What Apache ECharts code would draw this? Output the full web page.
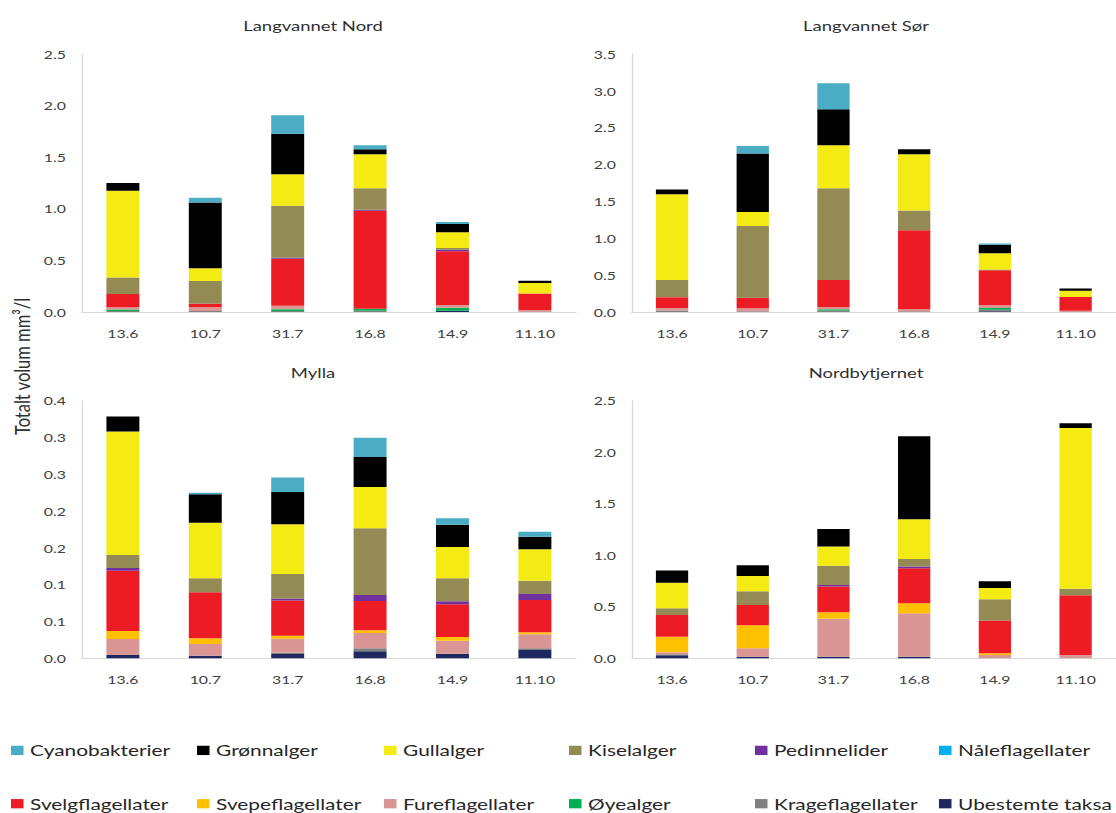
<!DOCTYPE html>
<html>
<head>
<meta charset="utf-8">
<script src="https://cdn.jsdelivr.net/npm/echarts@6/dist/echarts.min.js"></script>
<style>
  html, body { margin: 0; padding: 0; background: #fff; overflow: hidden; }
  #wrap { width: 1116px; height: 813px; overflow: hidden; }
  /* the figure is laid out narrow and widened horizontally */
  #chart { width: 846px; height: 813px; transform: scaleX(1.3191); transform-origin: 0 0; }
</style>
</head>
<body>
<div id="wrap"><div id="chart"></div></div>
<script>
// Sampling dates
const categories = ['13.6', '10.7', '31.7', '16.8', '14.9', '11.10'];

// Taxon groups, stacking order from the bottom of each bar upwards
const taxa = ['Ubestemte taksa', 'Krageflagellater', 'Øyealger', 'Fureflagellater',
  'Svepeflagellater', 'Svelgflagellater', 'Nåleflagellater', 'Pedinnelider',
  'Kiselalger', 'Gullalger', 'Grønnalger', 'Cyanobakterier'];

// Legend order (two rows of six)
const legendOrder = ['Cyanobakterier', 'Grønnalger', 'Gullalger', 'Kiselalger', 'Pedinnelider', 'Nåleflagellater',
  'Svelgflagellater', 'Svepeflagellater', 'Fureflagellater', 'Øyealger', 'Krageflagellater', 'Ubestemte taksa'];

const taxonColors = ['#1F2760', '#808080', '#00B050', '#D99694', '#FFC000', '#ED1C24',
  '#00B0F0', '#7030A0', '#948A54', '#F4EA14', '#000000', '#4BACC6'];

// Volume (mm³/l) per taxon (rows, same order as taxa) and date (columns)
const langvannetNord = [
  [0, 0, 0, 0, 0.013, 0],
  [0.01, 0.01, 0.01, 0.012, 0, 0],
  [0.015, 0, 0.016, 0.02, 0.029, 0],
  [0.02, 0.035, 0.035, 0, 0.026, 0.02],
  [0, 0, 0, 0, 0, 0],
  [0.13, 0.036, 0.456, 0.95, 0.52, 0.16],
  [0, 0, 0, 0, 0, 0],
  [0, 0, 0.008, 0.008, 0.015, 0],
  [0.16, 0.22, 0.505, 0.208, 0.017, 0],
  [0.84, 0.123, 0.304, 0.33, 0.152, 0.10],
  [0.075, 0.636, 0.394, 0.048, 0.081, 0.023],
  [0, 0.046, 0.178, 0.039, 0.019, 0]
];

const langvannetSor = [
  [0, 0, 0, 0, 0.01, 0],
  [0.02, 0.01, 0.02, 0.01, 0.02, 0],
  [0, 0, 0.016, 0, 0.024, 0],
  [0.034, 0.04, 0.027, 0.026, 0.036, 0.018],
  [0, 0, 0, 0, 0, 0],
  [0.145, 0.145, 0.371, 1.073, 0.476, 0.186],
  [0, 0, 0, 0, 0, 0],
  [0, 0, 0, 0, 0, 0],
  [0.235, 0.972, 1.245, 0.267, 0.01, 0],
  [1.163, 0.19, 0.583, 0.764, 0.22, 0.085],
  [0.064, 0.792, 0.489, 0.068, 0.118, 0.031],
  [0, 0.104, 0.353, 0, 0.014, 0]
];

const mylla = [
  [0.0045, 0.0036, 0.0059, 0.0095, 0.0063, 0.0113],
  [0, 0, 0.0018, 0.0041, 0, 0.0023],
  [0, 0, 0, 0, 0, 0],
  [0.0218, 0.0159, 0.019, 0.0208, 0.0177, 0.019],
  [0.0108, 0.0077, 0.0041, 0.0036, 0.005, 0.0027],
  [0.082, 0.0625, 0.0476, 0.0399, 0.0444, 0.044],
  [0, 0, 0, 0, 0, 0],
  [0.0036, 0, 0.003, 0.0082, 0.004, 0.0081],
  [0.0177, 0.019, 0.0331, 0.0905, 0.0313, 0.0181],
  [0.1676, 0.0756, 0.0675, 0.0562, 0.0426, 0.0426],
  [0.0204, 0.0385, 0.0439, 0.0408, 0.0303, 0.0172],
  [0, 0.0023, 0.0199, 0.0262, 0.0086, 0.0068]
];

const nordbytjernet = [
  [0.03, 0.016, 0.016, 0.016, 0, 0],
  [0.009, 0, 0, 0, 0, 0],
  [0, 0, 0, 0, 0, 0],
  [0.019, 0.081, 0.369, 0.421, 0.032, 0.032],
  [0.152, 0.223, 0.061, 0.097, 0.017, 0],
  [0.21, 0.198, 0.25, 0.34, 0.317, 0.58],
  [0, 0, 0, 0, 0, 0],
  [0, 0, 0.016, 0.016, 0, 0],
  [0.065, 0.132, 0.187, 0.074, 0.207, 0.064],
  [0.249, 0.149, 0.185, 0.385, 0.11, 1.56],
  [0.117, 0.104, 0.171, 0.806, 0.064, 0.046],
  [0, 0, 0, 0, 0, 0]
];

// Y axis tick labels per panel
const ticksNord = ['0.0', '0.5', '1.0', '1.5', '2.0', '2.5'];
const ticksSor = ['0.0', '0.5', '1.0', '1.5', '2.0', '2.5', '3.0', '3.5'];
const ticksMylla = ['0.0', '0.1', '0.1', '0.2', '0.2', '0.3', '0.3', '0.4'];
const ticksNordby = ['0.0', '0.5', '1.0', '1.5', '2.0', '2.5'];

const lakeNames = ['Langvannet Nord', 'Langvannet Sør', 'Mylla', 'Nordbytjernet'];

// ---- layout ----
const K = 1116 / 846;            // horizontal widening factor
const sx = x => x / K;           // page x -> chart x
const FONT = 'Lato, "Open Sans", sans-serif';
const TXT = '#404040';

const panels = [
  { data: langvannetNord, ticks: ticksNord, max: 2.5, interval: 0.5, left: 81.7, top: 54, height: 258, titleX: 313, titleY: 25 },
  { data: langvannetSor, ticks: ticksSor, max: 3.5, interval: 0.5, left: 631.7, top: 54, height: 258, titleX: 866, titleY: 25 },
  { data: mylla, ticks: ticksMylla, max: 0.35, interval: 0.05, left: 81.7, top: 400.7, height: 257.6, titleX: 313, titleY: 372 },
  { data: nordbytjernet, ticks: ticksNordby, max: 2.5, interval: 0.5, left: 631.7, top: 400.7, height: 257.6, titleX: 866, titleY: 372 }
];
const plotWidth = 494.4;

const grid = [], xAxis = [], yAxis = [], series = [], graphic = [];
panels.forEach((p, pi) => {
  grid.push({ left: sx(p.left), top: p.top, width: sx(plotWidth), height: p.height, containLabel: false });
  xAxis.push({
    type: 'category', gridIndex: pi, data: categories,
    axisLine: { show: true, lineStyle: { color: '#D9D9D9', width: 1 } },
    axisTick: { show: false },
    axisLabel: { color: TXT, fontSize: 12, fontFamily: FONT, margin: 15 },
    splitLine: { show: false }
  });
  yAxis.push({
    type: 'value', gridIndex: pi, min: 0, max: p.max, interval: p.interval,
    axisLine: { show: true, lineStyle: { color: '#D9D9D9', width: 1 } },
    axisTick: { show: false },
    splitLine: { show: false },
    axisLabel: {
      color: TXT, fontSize: 12, fontFamily: FONT, margin: 12,
      formatter: (v, i) => p.ticks[i]
    }
  });
  taxa.forEach((name, ti) => {
    series.push({
      type: 'bar', name: name, stack: 'lake' + pi,
      xAxisIndex: pi, yAxisIndex: pi,
      barWidth: '40%',
      itemStyle: { color: taxonColors[ti] },
      data: p.data[ti]
    });
  });
  graphic.push({
    type: 'text', x: sx(p.titleX), y: p.titleY,
    style: { text: lakeNames[pi], fill: '#303030', fontSize: 14, fontFamily: FONT,
      align: 'center', verticalAlign: 'middle', textAlign: 'center', textVerticalAlign: 'middle' }
  });
});

// shared y axis title
graphic.push({
  type: 'text', x: sx(22), y: 366.5, rotation: Math.PI / 2,
  style: { text: 'Totalt volum mm³/l', fill: '#303030', fontSize: 16.5, fontFamily: FONT,
    align: 'center', verticalAlign: 'middle', textAlign: 'center', textVerticalAlign: 'middle' }
});

// legend: one component per entry on a 6-column grid
const legendCols = [11, 197, 384, 569, 755, 939];
const legendRowCenters = [750.4, 803.7];
const legend = legendOrder.map((name, i) => ({
  data: [name],
  left: sx(legendCols[i % 6]),
  top: legendRowCenters[Math.floor(i / 6)] - 8,
  padding: 0,
  itemWidth: 9.5, itemHeight: 9.3, icon: 'rect',
  textStyle: { fontSize: 15.8, fontFamily: FONT, color: '#262626' }
}));

const chart = echarts.init(document.getElementById('chart'), null, { renderer: 'svg' });
chart.setOption({
  animation: false,
  backgroundColor: '#ffffff',
  grid, xAxis, yAxis, series, legend, graphic
});
</script>
</body>
</html>
